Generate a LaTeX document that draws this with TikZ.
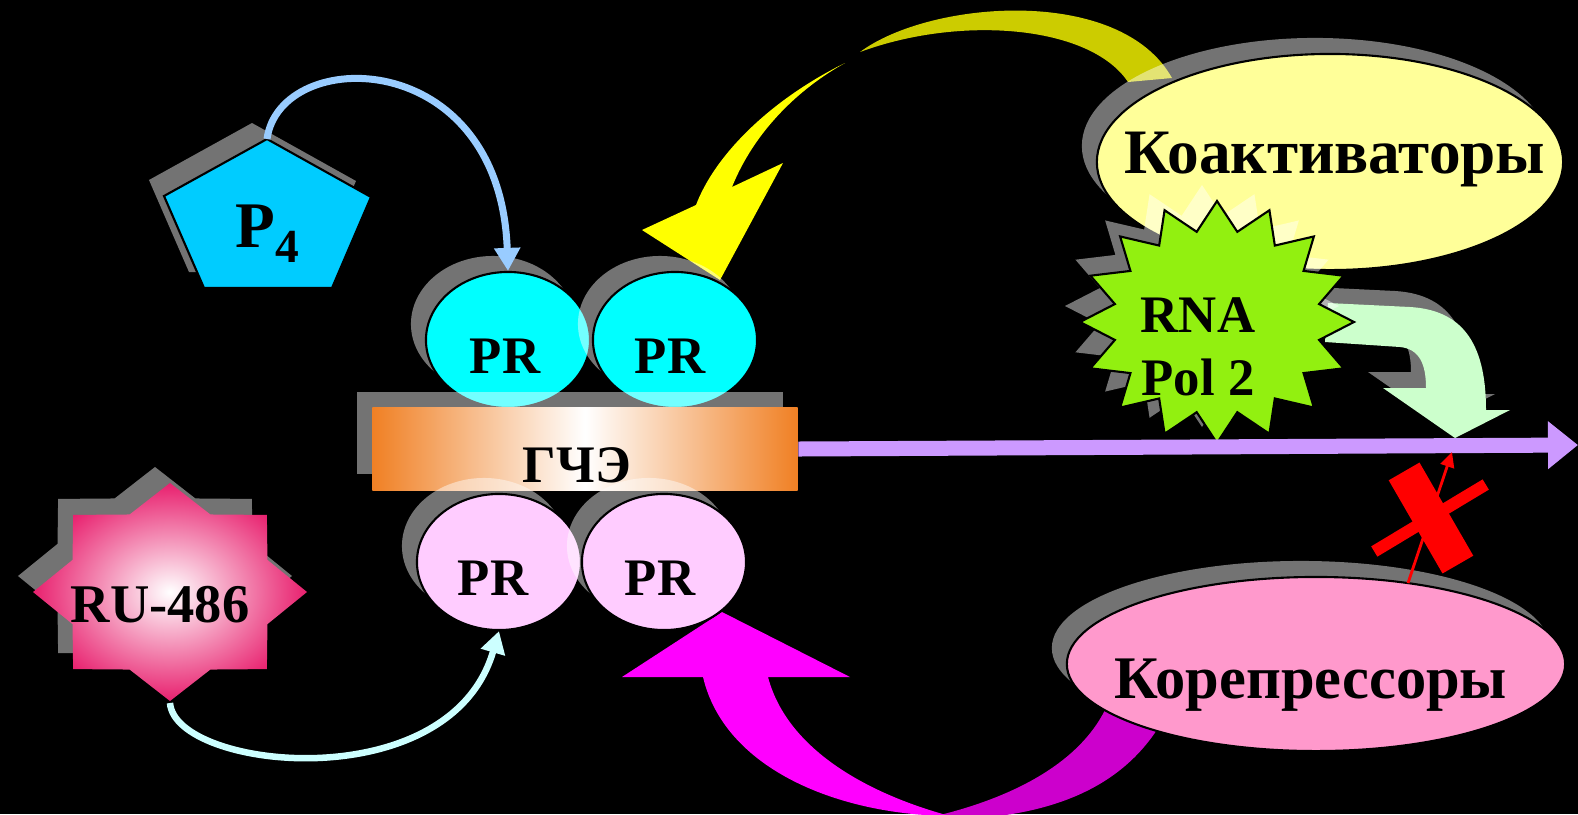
\documentclass[tikz,border=0pt]{standalone}
\usepackage{fontspec}
\setmainfont{Liberation Serif}
\usetikzlibrary{shapes.geometric,arrows.meta,shadows}

\definecolor{pentblue}{HTML}{00CCFF}
\definecolor{prcyan}{HTML}{00FFFF}
\definecolor{prpink}{HTML}{FFCCFF}
\definecolor{gceorange}{HTML}{F08024}
\definecolor{dnaviolet}{HTML}{CC99FF}
\definecolor{rupink}{HTML}{E8206E}
\definecolor{coactyellow}{HTML}{FFFF99}
\definecolor{polgreen}{HTML}{92F010}
\definecolor{txgreen}{HTML}{CCFFCC}
\definecolor{corepink}{HTML}{FF99CC}
\definecolor{arrblue}{HTML}{99CCFF}
\definecolor{arrcyan}{HTML}{CCFFFF}
\definecolor{coarrfront}{HTML}{FFFF00}
\definecolor{coarrback}{HTML}{CCCC00}
\definecolor{corarrfront}{HTML}{FF00FF}
\definecolor{corarrback}{HTML}{CC00CC}
\definecolor{blockred}{HTML}{FF0000}

\begin{document}
\begin{tikzpicture}[
    x=0.01cm, y=-0.01cm,
    declare function={polr(\a)=1-0.24*mod(round(\a/11.25),2); rur(\a)=1-0.23*mod(round(\a/22.5),2);},
    shad/.style={drop shadow={shadow xshift=-0.15cm, shadow yshift=0.16cm, fill=white, opacity=0.45}},
    pr/.style={ellipse, draw=black, line width=0.6pt, inner sep=0pt, minimum width=1.64cm, minimum height=1.36cm, shad},
    bubble/.style={ellipse, draw=black, line width=0.6pt, inner sep=0pt, shad},
    lbl/.style={anchor=base, inner sep=0pt, font=\bfseries\fontsize{15}{17}\selectfont},
    biglbl/.style={lbl, font=\bfseries\fontsize{18}{20}\selectfont},
    xbar/.style={rectangle, fill=blockred, inner sep=0pt}
]
    % background
    \path[use as bounding box, fill=black] (0,0) rectangle (1578,814);

    % --- Coactivator arrow (yellow) ---
    \fill[coarrback] (860,52) .. controls (960,15) and (1090,25) .. (1128,82) -- (1172,78) .. controls (1120,-15) and (930,0) .. (860,52) -- cycle;
    \fill[coarrfront] (845,63) .. controls (770,100) and (715,155) .. (696,205) -- (642,230) -- (720,280) -- (783,163) -- (732,187) .. controls (755,130) and (800,88) .. (845,63) -- cycle;

    % --- Corepressor arrow (magenta) ---
    \fill[corarrback] (940,815) .. controls (1020,795) and (1080,760) .. (1105,710) -- (1160,725) .. controls (1120,790) and (1050,812) .. (980,818) -- cycle;
    \fill[corarrfront] (622,677) -- (703,677) .. controls (725,770) and (840,815) .. (950,816) .. controls (890,800) and (790,760) .. (768,677) -- (850,677) -- (722,612) -- cycle;

    % --- Coactivators / corepressors ---
    \node[bubble, fill=coactyellow, minimum width=4.66cm, minimum height=2.16cm] (coact) at (1330,162) {};
    \node[biglbl] (coacttxt) at (1335,173) {Коактиваторы};
    \node[bubble, fill=corepink, minimum width=4.98cm, minimum height=1.74cm] (corep) at (1316,664) {};
    \node[biglbl, font=\bfseries\fontsize{17.2}{19}\selectfont] (coreptxt) at (1311,698) {Корепрессоры};

    % --- Transcription arrow ---
    \path[shad, fill=txgreen] (1325,342) -- (1400,347) .. controls (1420,349) and (1426,365) .. (1426,388) -- (1383,388) -- (1455,438) -- (1510,410) -- (1486,410) .. controls (1486,340) and (1460,310) .. (1410,307) -- (1328,303) -- cycle;

    % --- RNA Pol 2 ---
    \path[shad, fill=polgreen, draw=black, line width=0.6pt] plot[samples=32, domain=0:348.75] ({1217+137*polr(\x)*cos(\x)}, {322+121*polr(\x)*sin(\x)}) -- cycle;
    \node[lbl] (rnatxt) at (1198,332) {RNA};
    \node[lbl] (poltxt) at (1198,395) {Pol 2};

    % --- Progesterone ---
    \path[shad, fill=pentblue, draw=black, line width=0.6pt] (267,139) -- (371,197) -- (332,288) -- (204,288) -- (164,196) -- cycle;
    \coordinate (p4top) at (267,139);
    \node[lbl, font=\bfseries\fontsize{18.5}{20}\selectfont] (p4) at (267,247) {P\raisebox{-4.3pt}{\fontsize{13.5}{14}\selectfont 4}};

    % --- PR dimers on the HRE ---
    \node[pr, fill=prcyan] (pr1) at (508,340) {};
    \node[pr, fill=prcyan] (pr2) at (675,340) {};
    \node[shad, left color=gceorange, right color=gceorange, middle color=white, minimum width=4.25cm, minimum height=0.82cm, inner sep=0pt] (gce) at (585,449) {};
    \node[pr, fill=prpink] (pr3) at (499,562) {};
    \node[pr, fill=prpink] (pr4) at (664,562) {};
    \node[lbl] (pr1txt) at (505,373) {PR};
    \node[lbl] (pr2txt) at (670,373) {PR};
    \node[lbl] (gcetxt) at (577,482) {ГЧЭ};
    \node[lbl] (pr3txt) at (493,595) {PR};
    \node[lbl] (pr4txt) at (660,595) {PR};

    % --- RU-486 ---
    \path[shad, inner color=white, outer color=rupink] plot[samples=16, domain=0:337.5] ({170+137*rur(\x)*cos(\x)}, {592+109*rur(\x)*sin(\x)}) -- cycle;
    \node[lbl, font=\bfseries\fontsize{15.5}{17}\selectfont] (ru) at (160,622) {RU-486};
    \coordinate (rubot) at (170,703);

    % --- Ligand arrows ---
    \draw[arrblue, line width=0.07cm, -{Triangle[length=0.23cm, width=0.25cm]}] (p4top) .. controls (280,45) and (500,45) .. (pr1.north);
    \draw[arrcyan, line width=0.065cm, -{Triangle[length=0.22cm, width=0.24cm]}] (rubot) .. controls (175,770) and (450,800) .. (pr3.south);

    % --- DNA ---
    \coordinate (dnaend) at (1578,445);
    \draw[dnaviolet, line width=0.15cm, -{Triangle[length=0.3cm, width=0.46cm]}] (gce.east) -- (dnaend);

    % --- Blocked activation ---
    \coordinate (xfrom) at (1408,583);
    \coordinate (xto) at (1452,452);
    \draw[blockred, line width=0.8pt, -{Triangle[length=0.15cm, width=0.14cm]}] (xfrom) -- (xto);
    \node[xbar, minimum width=1.3cm, minimum height=0.12cm, rotate=31] (xthin) at (1430,518) {};
    \node[xbar, minimum width=1.075cm, minimum height=0.355cm, rotate=-60] (xthick) at (1431,518) {};
\end{tikzpicture}
\end{document}
